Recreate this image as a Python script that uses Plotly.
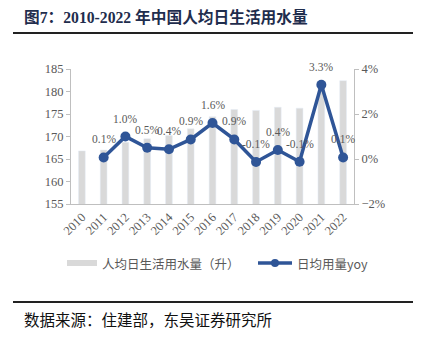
import plotly.graph_objects as go

years = ["2010", "2011", "2012", "2013", "2014", "2015", "2016",
         "2017", "2018", "2019", "2020", "2021", "2022"]
water = [166.8, 167.0, 168.7, 169.5, 170.2, 171.7, 174.4,
         176.0, 175.8, 176.5, 176.3, 182.1, 182.4]
yoy_years = years[1:]
yoy = [0.07, 1.0, 0.5, 0.43, 0.87, 1.6, 0.87, -0.13, 0.4, -0.12, 3.3, 0.07]

title = "图7：2010-2022 年中国人均日生活用水量"
source = "数据来源：住建部，东吴证券研究所"
bar_name = "人均日生活用水量（升）"
line_name = "日均用量yoy"

W, H = 422, 339
gray_txt = "#595959"
axis_col = "#BFBFBF"
bar_col = "#D9D9D9"
line_col = "#2F5597"
serif = "Liberation Serif, Times New Roman, serif"
cjk = "Noto Sans CJK SC, sans-serif"

fig = go.Figure()
fig.add_trace(go.Bar(x=years, y=water, marker_color=bar_col, width=0.31,
                     yaxis="y", showlegend=False))
fig.add_trace(go.Scatter(x=yoy_years, y=yoy, yaxis="y2", mode="lines+markers",
                         line=dict(color=line_col, width=3.5),
                         marker=dict(color=line_col, size=10),
                         showlegend=False, cliponaxis=False))

fig.update_layout(
    width=W, height=H, margin=dict(l=71, r=68, t=69, b=135),
    paper_bgcolor="white", plot_bgcolor="white",
    xaxis=dict(type="category", categoryorder="array", categoryarray=years,
               range=[-0.5, len(years) - 0.5], tickangle=-45, showline=True,
               linecolor=axis_col, linewidth=1, ticks="",
               tickfont=dict(family=serif, size=12.5, color=gray_txt)),
    yaxis=dict(range=[155, 185], dtick=5, showgrid=False, zeroline=False,
               showline=True, linecolor=axis_col, ticks="outside", ticklen=4,
               tickcolor=axis_col, tickfont=dict(family=serif, size=12.5, color=gray_txt)),
    yaxis2=dict(range=[-2, 4], dtick=2, overlaying="y", side="right", showgrid=False,
                zeroline=False, showline=True, linecolor=axis_col, ticks="outside",
                ticklen=4, tickcolor=axis_col, ticksuffix="%",
                tickfont=dict(family=serif, size=12.5, color=gray_txt)),
    bargap=0.7,
)

shapes = []
annotations = []
# data labels above the yoy points (category index positions)
for xv, yv in zip(yoy_years, yoy):
    annotations.append(dict(x=years.index(xv), y=yv, xref="x", yref="y2",
                            text=f"{yv:.1f}%", showarrow=False, yshift=18,
                            yanchor="middle",
                            font=dict(family=serif, size=11.5, color=gray_txt)))
# rule lines
for y in (33, 302):
    shapes.append(dict(type="line", xref="paper", yref="paper",
                       x0=(13 - 71) / 283, x1=(413 - 71) / 283,
                       y0=(204 - y) / 135, y1=(204 - y) / 135,
                       line=dict(color="#222222", width=2)))
# legend
shapes.append(dict(type="rect", xref="paper", yref="paper",
                   x0=(67 - 71) / 283, x1=(97 - 71) / 283,
                   y0=(204 - 266) / 135, y1=(204 - 260) / 135,
                   fillcolor=bar_col, line=dict(width=0)))
shapes.append(dict(type="line", xref="paper", yref="paper",
                   x0=(258 - 71) / 283, x1=(292 - 71) / 283,
                   y0=(204 - 263) / 135, y1=(204 - 263) / 135,
                   line=dict(color=line_col, width=3.5)))
shapes.append(dict(type="circle", xref="paper", yref="paper",
                   x0=(271 - 71) / 283, x1=(279 - 71) / 283,
                   y0=(204 - 267) / 135, y1=(204 - 259) / 135,
                   fillcolor=line_col, line=dict(width=0)))
annotations.append(dict(text=bar_name, xref="paper", yref="paper",
                        x=(100 - 71) / 283, y=(204 - 263) / 135, xanchor="left",
                        yanchor="middle", showarrow=False,
                        font=dict(family=cjk, size=12.5, color=gray_txt)))
annotations.append(dict(text=line_name, xref="paper", yref="paper",
                        x=(295 - 71) / 283, y=(204 - 263) / 135, xanchor="left",
                        yanchor="middle", showarrow=False,
                        font=dict(family=cjk, size=12.5, color=gray_txt)))
annotations.append(dict(text="<b>" + title + "</b>", xref="paper", yref="paper",
                        x=(22 - 71) / 283, y=(204 - 17) / 135, xanchor="left",
                        yanchor="middle", showarrow=False,
                        font=dict(family="Liberation Serif, Noto Sans CJK SC",
                                  size=15.7, color="#1F2D4D")))
annotations.append(dict(text=source, xref="paper", yref="paper",
                        x=(22 - 71) / 283, y=(204 - 319) / 135, xanchor="left",
                        yanchor="middle", showarrow=False,
                        font=dict(family=cjk, size=15.5, color="#111111")))
fig.update_layout(shapes=shapes, annotations=annotations)

fig.write_html("out.html")
